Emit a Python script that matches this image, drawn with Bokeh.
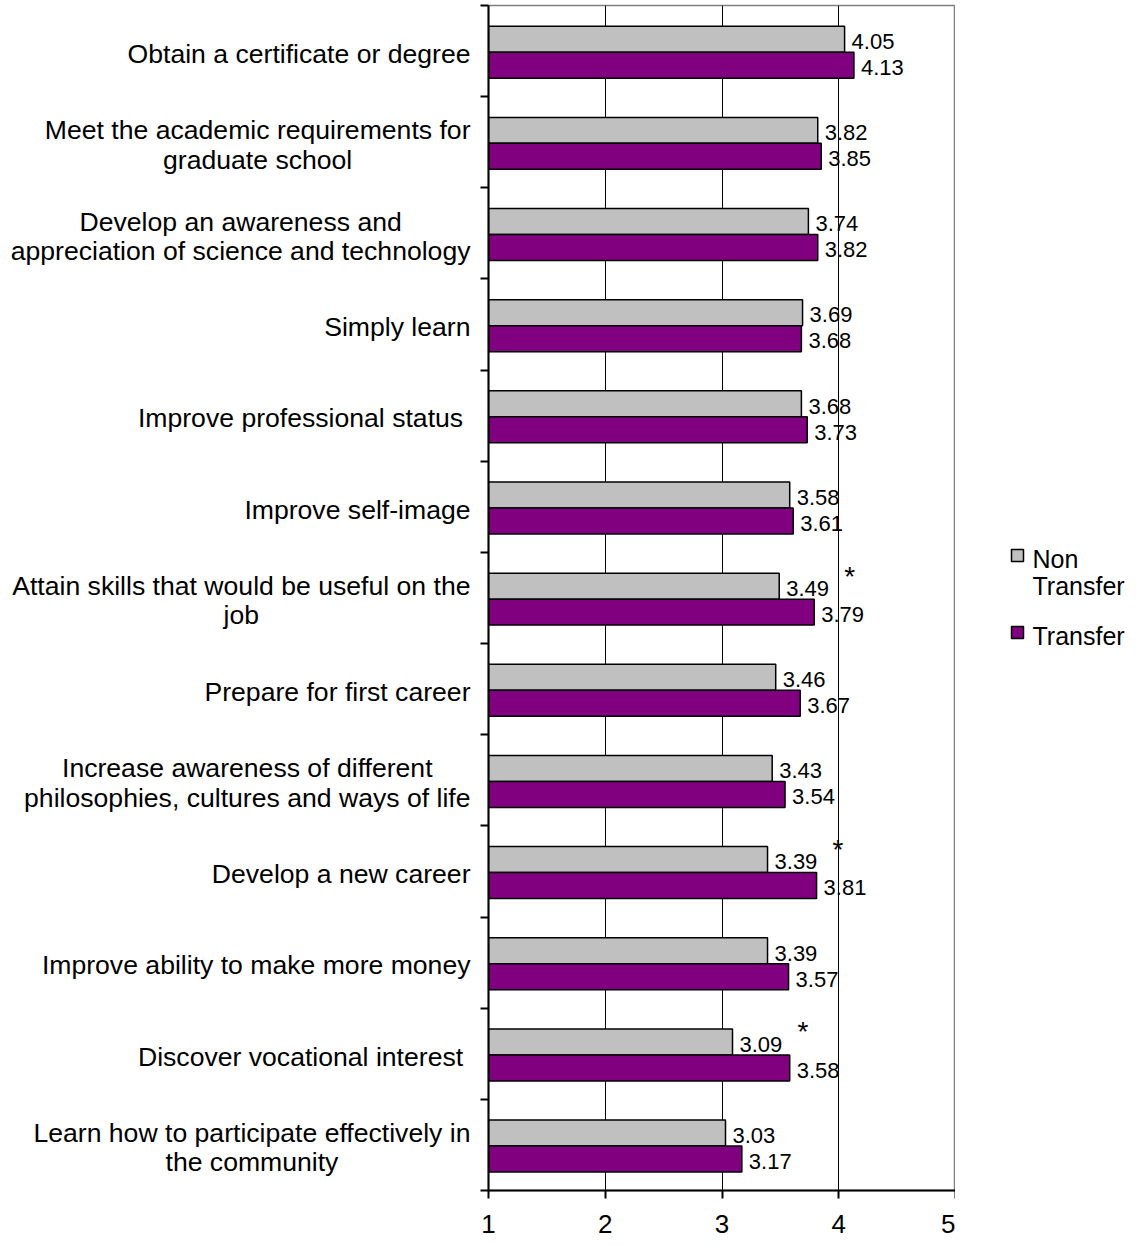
import numpy as np
from bokeh.plotting import figure
from bokeh.layouts import row
from bokeh.models import Range1d, FixedTicker, ColumnDataSource
from bokeh.core.properties import value
from bokeh.embed import file_html
from bokeh.resources import INLINE

categories = [
    "Obtain a certificate or degree",
    "Meet the academic requirements for\ngraduate school",
    "Develop an awareness and\nappreciation of science and technology",
    "Simply learn",
    "Improve professional status ",
    "Improve self-image",
    "Attain skills that would be useful on the\njob",
    "Prepare for first career",
    "Increase awareness of different\nphilosophies, cultures and ways of life",
    "Develop a new career",
    "Improve ability to make more money",
    "Discover vocational interest ",
    "Learn how to participate effectively in\nthe community",
]
non_transfer = [4.05, 3.82, 3.74, 3.69, 3.68, 3.58, 3.49, 3.46, 3.43, 3.39, 3.39, 3.09, 3.03]
transfer = [4.13, 3.85, 3.82, 3.68, 3.73, 3.61, 3.79, 3.67, 3.54, 3.81, 3.57, 3.58, 3.17]
significant = [False, False, False, False, False, False, True, False, False, True, False, True, False]
x_ticks = [1, 2, 3, 4, 5]
series_names = ["Non\nTransfer", "Transfer"]

FONT = "Liberation Sans"
GRAY = "#C0C0C0"
PURPLE = "#800080"

n = len(categories)
idx = np.arange(n)

H = 1243
TOP = 5
BOTTOM = H - 1190
LEFT_W = 476
AX_W = 12
FRAME_W = 467
MAIN_W = AX_W + FRAME_W
RIGHT_W = 1142 - LEFT_W - MAIN_W

y_range = Range1d(n, 0)

# ---------------- main chart ----------------
p = figure(width=MAIN_W, height=H, x_range=Range1d(x_ticks[0], x_ticks[-1]),
           y_range=y_range, output_backend="svg", toolbar_location=None,
           min_border_left=AX_W, min_border_right=0, min_border_top=TOP,
           min_border_bottom=BOTTOM)
p.background_fill_color = "white"
p.border_fill_color = "white"
p.outline_line_color = "#808080"
p.outline_line_width = 1.5

src_n = ColumnDataSource(dict(y=idx + 0.37, ly=idx + 0.395, v=non_transfer,
                              t=[f"{v:.2f}" for v in non_transfer]))
src_t = ColumnDataSource(dict(y=idx + 0.655, ly=idx + 0.68, v=transfer,
                              t=[f"{v:.2f}" for v in transfer]))

p.hbar(y="y", left=x_ticks[0], right="v", height=0.285, source=src_n,
       fill_color=GRAY, line_color="black", line_width=1.5)
p.hbar(y="y", left=x_ticks[0], right="v", height=0.285, source=src_t,
       fill_color=PURPLE, line_color="black", line_width=1.5)

for src in (src_n, src_t):
    p.text(x="v", y="ly", text="t", source=src, x_offset=7,
           text_baseline="middle", text_align="left",
           text_font=value(FONT), text_font_size="22px", text_color="black")

sig_y = [i + 0.26 for i in range(n) if significant[i]]
sig_x = [non_transfer[i] for i in range(n) if significant[i]]
p.text(x=sig_x, y=sig_y, text=["*"] * len(sig_x), x_offset=65,
       text_baseline="middle", text_align="left",
       text_font=value(FONT), text_font_size="28px", text_color="black")

p.xgrid.ticker = FixedTicker(ticks=x_ticks[1:-1])
p.xgrid.grid_line_color = "black"
p.xgrid.grid_line_width = 1
p.ygrid.visible = False

xa = p.xaxis[0]
xa.ticker = FixedTicker(ticks=x_ticks)
xa.major_tick_in = 0
xa.major_tick_out = 8
xa.minor_tick_out = 0
xa.minor_tick_in = 0
xa.axis_line_width = 2
xa.major_tick_line_width = 2
xa.axis_line_color = "black"
xa.major_label_text_font = FONT
xa.major_label_text_font_size = "26px"
xa.major_label_text_color = "black"
xa.major_label_standoff = 16

ya = p.yaxis[0]
ya.ticker = FixedTicker(ticks=list(range(n + 1)))
ya.major_tick_in = 0
ya.major_tick_out = 8
ya.minor_tick_out = 0
ya.minor_tick_in = 0
ya.axis_line_width = 2
ya.major_tick_line_width = 2
ya.axis_line_color = "black"
ya.major_label_overrides = {i: "" for i in range(n + 1)}
ya.major_label_standoff = 0

# ---------------- category labels (left panel) ----------------
pl = figure(width=LEFT_W, height=H, x_range=Range1d(0, LEFT_W), y_range=y_range,
            output_backend="svg", toolbar_location=None,
            x_axis_location=None, y_axis_location=None,
            min_border_left=0, min_border_right=0, min_border_top=TOP,
            min_border_bottom=BOTTOM)
pl.outline_line_color = None
pl.grid.visible = False
pl.background_fill_color = "white"
pl.border_fill_color = "white"
pl.text(x=[LEFT_W - 6] * n, y=idx + 0.53, text=categories,
        anchor="center_right", text_align="center", text_baseline="middle",
        text_font=value(FONT), text_font_size="26.6px", text_color="black",
        text_line_height=0.97)

# ---------------- legend (right panel) ----------------
x0 = LEFT_W + MAIN_W
pr = figure(width=RIGHT_W, height=H, x_range=Range1d(x0, x0 + RIGHT_W),
            y_range=Range1d(1190, TOP), output_backend="svg",
            toolbar_location=None, x_axis_location=None, y_axis_location=None,
            min_border_left=0, min_border_right=0, min_border_top=TOP,
            min_border_bottom=BOTTOM)
pr.outline_line_color = None
pr.grid.visible = False
pr.background_fill_color = "white"
pr.border_fill_color = "white"
pr.rect(x=[1017, 1017], y=[555, 632], width=12, height=12,
        fill_color=[GRAY, PURPLE], line_color="black", line_width=1.5)
pr.text(x=[1032, 1032], y=[572, 635], text=series_names,
        anchor="center_left", text_align="left", text_baseline="middle",
        text_font=value(FONT), text_font_size="25px", text_color="black",
        text_line_height=0.95)

layout = row(pl, p, pr, spacing=0)
open("out.html", "w").write(file_html(layout, INLINE))
